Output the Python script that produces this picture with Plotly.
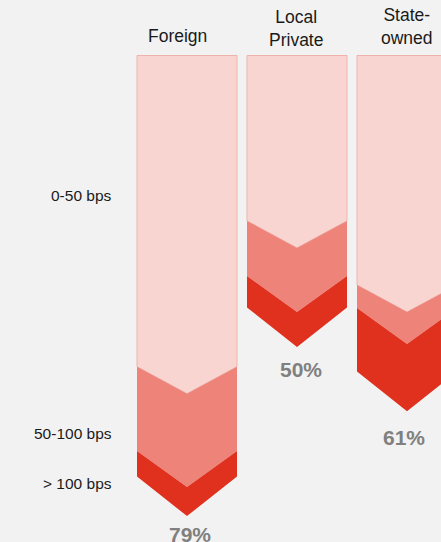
import plotly.graph_objects as go

# ---- data ----
categories = ["Foreign", "Local<br>Private", "State-<br>owned"]
bands = ["0-50 bps", "50-100 bps", "> 100 bps"]
share_0_50 = [58, 33, 44]
share_50_100 = [16, 11, 5.5]
share_over_100 = [5, 6, 11.5]
totals = [79, 50, 61]
total_labels = ["79%", "50%", "61%"]

# ---- style ----
colors = ["#F8D5D1", "#EE837A", "#E0301E"]
chevron_depth = [4.63, 6.17, 6.78]   # depth of each band's bottom chevron (y units)
half_w = 0.4545
bg = "#F2F2F2"
font_family = "Arial, Liberation Sans, sans-serif"

px_top, px_per = 55.5, 5.83
def ypix(p):
    return (p - px_top) / px_per

fig = go.Figure()

series = [share_0_50, share_50_100, share_over_100]
for i, cat in enumerate(categories):
    xc = i
    top_apex, top_depth = 0.0, 0.0
    cum = 0.0
    for k in range(3):
        cum += series[k][i]
        bot_apex, bot_depth = cum, chevron_depth[k]
        xs = [xc - half_w, xc, xc + half_w, xc + half_w, xc, xc - half_w, xc - half_w]
        ys = [top_apex - top_depth, top_apex, top_apex - top_depth,
              bot_apex - bot_depth, bot_apex, bot_apex - bot_depth, top_apex - top_depth]
        fig.add_trace(go.Scatter(
            x=xs, y=ys, mode="lines", fill="toself", fillcolor=colors[k],
            line=dict(width=1 if k == 0 else 0, color="#EFB3AC" if k == 0 else colors[k]),
            hoverinfo="skip", showlegend=False))
        top_apex, top_depth = bot_apex, bot_depth

# header labels
header_x = [-0.09, -0.01, 0.0]
header_y = [ypix(36), ypix(28), ypix(26.5)]
for i, cat in enumerate(categories):
    fig.add_annotation(x=i + header_x[i], y=header_y[i], text=cat, showarrow=False,
                       xanchor="center", yanchor="middle",
                       font=dict(family=font_family, size=17.5, color="#1a1a1a"))

# band labels on the left
band_y = [ypix(195), ypix(433), ypix(483)]
for b, yb in zip(bands, band_y):
    fig.add_annotation(x=(114 - 187) / 110, y=yb, text=b, showarrow=False,
                       xanchor="right", yanchor="middle",
                       font=dict(family=font_family, size=15.5, color="#1a1a1a"))

# total labels
label_gap = [3.1, 3.8, 4.6]
label_dx = [0.03, 0.04, -0.03]
for i, t in enumerate(total_labels):
    fig.add_annotation(x=i + label_dx[i], y=totals[i] + label_gap[i], text=f"<b>{t}</b>",
                       showarrow=False, xanchor="center", yanchor="middle",
                       font=dict(family=font_family, size=21, color="#808080"))

fig.update_layout(
    width=441, height=542, margin=dict(l=0, r=0, t=0, b=0),
    paper_bgcolor=bg, plot_bgcolor=bg,
    xaxis=dict(range=[-187 / 110, (441 - 187) / 110], visible=False, fixedrange=True),
    yaxis=dict(range=[ypix(542), ypix(0)], visible=False, fixedrange=True),
)
fig.write_html("out.html")
